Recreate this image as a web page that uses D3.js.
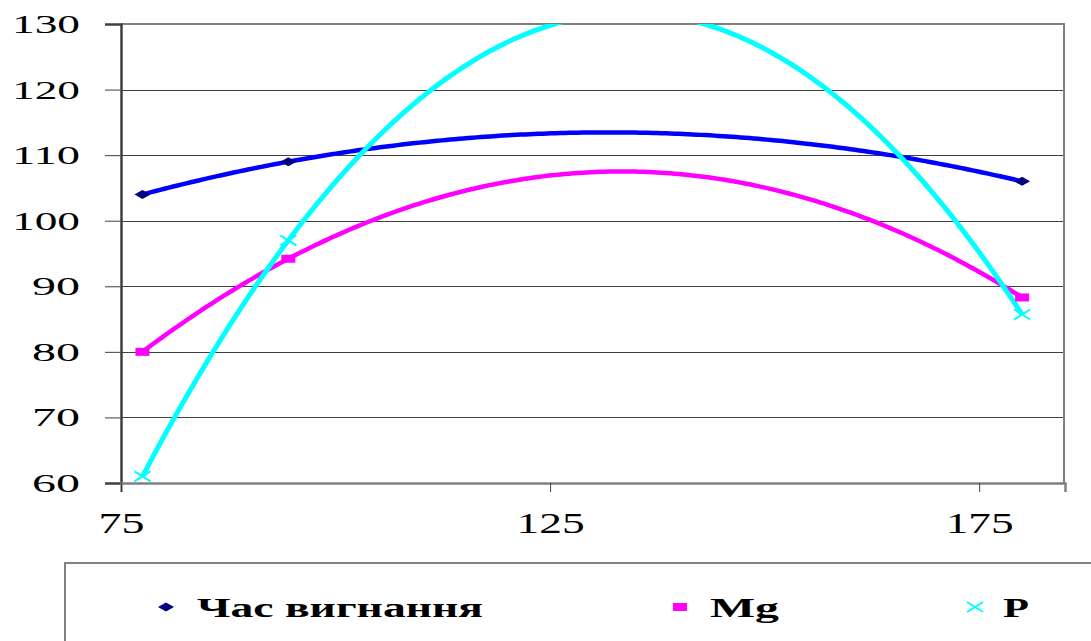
<!DOCTYPE html>
<html>
<head>
<meta charset="utf-8">
<script src="https://cdn.jsdelivr.net/npm/d3@7"></script>
<style>
  html, body { margin: 0; padding: 0; background: #fff; }
  svg { display: block; }
  text { font-family: "Liberation Serif", "Times New Roman", serif; fill: #000; }
</style>
</head>
<body>
<svg id="chart" width="1091" height="641"></svg>
<script>
// Measured points (x = factor level, y = response value)
const xValues = [77.5, 94.5, 180];
const seriesNames = ["Час вигнання", "Mg", "P"];
const chasValues = [104, 109, 106];
const mgValues = [80, 94.2, 88.3];
const pValues = [61, 97, 85.7];
const xTicks = [75, 125, 175];
const yTicks = [60, 70, 80, 90, 100, 110, 120, 130];

const series = [
  { name: seriesNames[0], values: chasValues, line: "#0000ff", marker: "#000080", shape: "diamond" },
  { name: seriesNames[1], values: mgValues, line: "#ff00ff", marker: "#ff00ff", shape: "square" },
  { name: seriesNames[2], values: pValues, line: "#00ffff", marker: "#00ffff", shape: "cross" }
];

const svg = d3.select("#chart");
const plotLeft = 121, plotRight = 1065, plotTop = 24, plotBottom = 483;

const x = d3.scaleLinear().domain([75, 185]).range([plotLeft, plotRight]);
const y = d3.scaleLinear().domain([60, 130]).range([plotBottom, plotTop]);

// Horizontal gridlines
svg.append("g").selectAll("line")
  .data(yTicks.filter(v => v !== 60 && v !== 130))
  .join("line")
  .attr("x1", plotLeft).attr("x2", plotRight - 1)
  .attr("y1", d => Math.round(y(d)) + 0.5).attr("y2", d => Math.round(y(d)) + 0.5)
  .attr("stroke", "#404040").attr("stroke-width", 1);

// Plot frame: top and right edges
svg.append("path")
  .attr("d", `M${plotLeft},${plotTop} H${plotRight - 1} V${plotBottom}`)
  .attr("fill", "none").attr("stroke", "#808080").attr("stroke-width", 2);

// Y axis
const yAxis = svg.append("g")
  .attr("transform", `translate(${plotLeft},0)`)
  .call(d3.axisLeft(y).tickValues(yTicks).tickSize(16).tickFormat(d3.format("d")));
yAxis.select(".domain").attr("stroke", "#404040").attr("stroke-width", 2.5);
yAxis.selectAll(".tick line").attr("stroke", "#404040");
yAxis.selectAll(".tick text")
  .attr("x", -41)
  .attr("dy", "0.34em")
  .attr("font-size", 25)
  .attr("font-family", "Liberation Serif, serif")
  .attr("textLength", d => String(d).length === 3 ? 68 : 48)
  .attr("lengthAdjust", "spacingAndGlyphs");

// X axis
const xAxis = svg.append("g")
  .attr("transform", `translate(0,${plotBottom})`)
  .call(d3.axisBottom(x).tickValues(xTicks).tickSize(9).tickFormat(d3.format("d")));
xAxis.select(".domain").attr("stroke", "#808080").attr("stroke-width", 2.5);
xAxis.selectAll(".tick line").attr("stroke", "#404040");
xAxis.selectAll(".tick text")
  .attr("y", 50)
  .attr("dy", 0)
  .attr("font-size", 29)
  .attr("font-family", "Liberation Serif, serif")
  .attr("textLength", d => String(d).length === 3 ? 68 : 46)
  .attr("lengthAdjust", "spacingAndGlyphs");

// Second-order polynomial trendline through the three points of a series
function quadratic(xs, ys) {
  return t => {
    let s = 0;
    for (let i = 0; i < 3; i++) {
      let term = ys[i];
      for (let j = 0; j < 3; j++) {
        if (j !== i) term *= (t - xs[j]) / (xs[i] - xs[j]);
      }
      s += term;
    }
    return s;
  };
}

svg.append("clipPath").attr("id", "plot-clip")
  .append("rect").attr("x", plotLeft).attr("y", plotTop)
  .attr("width", plotRight - plotLeft).attr("height", plotBottom - plotTop);

const line = d3.line().x(d => x(d[0])).y(d => y(d[1]));
const xMin = d3.min(xValues), xMax = d3.max(xValues);
const samples = d3.range(0, 201).map(i => xMin + (xMax - xMin) * i / 200);

const curves = svg.append("g").attr("clip-path", "url(#plot-clip)");
series.forEach(s => {
  const f = quadratic(xValues, s.values);
  curves.append("path")
    .datum(samples.map(t => [t, f(t)]))
    .attr("d", line)
    .attr("fill", "none")
    .attr("stroke", s.line)
    .attr("stroke-width", s.shape === "cross" ? 5 : 4.5)
    .attr("stroke-linejoin", "round");
});

// Marker shapes (drawn wide)
function markerPath(shape) {
  if (shape === "diamond") return "M-8,0 L0,-4.5 L8,0 L0,4.5 Z";
  if (shape === "square") return "M-7,-4 H7 V4 H-7 Z";
  return "M-8,-5 L8,5 M-8,5 L8,-5";
}
function drawMarker(g, shape, color) {
  const p = g.append("path").attr("d", markerPath(shape));
  if (shape === "cross") p.attr("fill", "none").attr("stroke", color).attr("stroke-width", 2);
  else p.attr("fill", color);
}

series.forEach(s => {
  const g = svg.append("g");
  xValues.forEach((xv, i) => {
    const m = g.append("g").attr("transform", `translate(${x(xv)},${y(s.values[i])})`);
    drawMarker(m, s.shape, s.marker);
  });
});

// Legend
svg.append("rect")
  .attr("x", 65).attr("y", 563).attr("width", 1100).attr("height", 200)
  .attr("fill", "none").attr("stroke", "#808080").attr("stroke-width", 2);

const legendItems = [
  { s: series[0], mx: 166, tx: 197, w: 286 },
  { s: series[1], mx: 680, tx: 710, w: 69 },
  { s: series[2], mx: 975, tx: 1003, w: 26 }
];
legendItems.forEach(it => {
  const m = svg.append("g").attr("transform", `translate(${it.mx},607)`);
  drawMarker(m, it.s.shape, it.s.marker);
  svg.append("text")
    .attr("x", it.tx).attr("y", 617)
    .attr("font-size", 28).attr("font-weight", "bold")
    .attr("textLength", it.w).attr("lengthAdjust", "spacingAndGlyphs")
    .text(it.s.name);
});
</script>
</body>
</html>
